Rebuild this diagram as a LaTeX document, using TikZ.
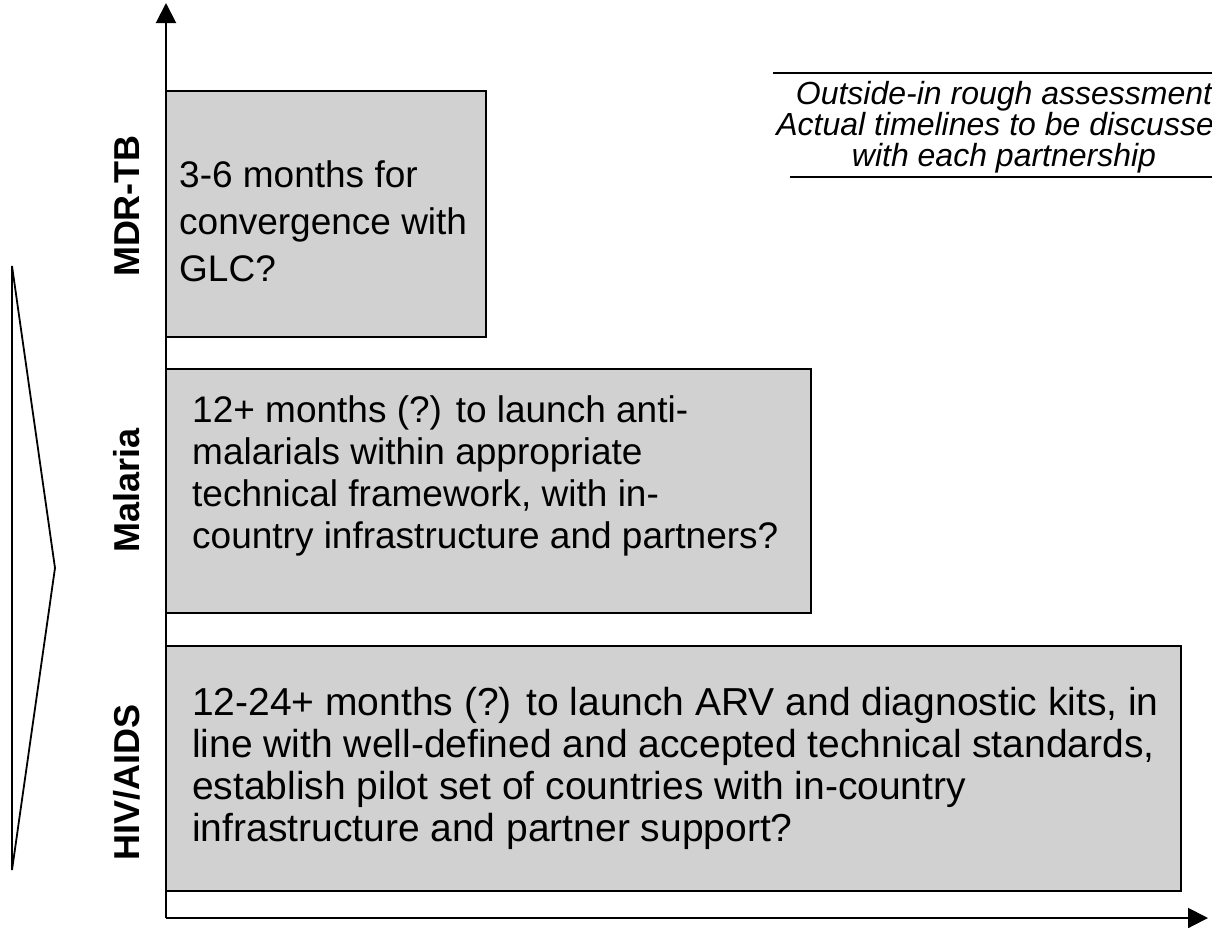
\documentclass[tikz,border=0pt]{standalone}
\usepackage{fontspec}
\setmainfont{Liberation Sans}
\usetikzlibrary{arrows.meta}

\definecolor{boxgray}{RGB}{209,209,209}

\tikzset{
    timebox/.style={draw, line width=2pt, fill=boxgray, anchor=north west, inner sep=0pt},
    boxtext/.style={anchor=west, align=left, inner sep=0pt, font=\fontsize{37}{42}\selectfont},
    disease/.style={rotate=90, inner sep=0pt, font=\bfseries\fontsize{36}{40}\selectfont},
    axis/.style={line width=2pt, -{Triangle[width=20pt,length=20pt]}},
    rule/.style={line width=1.8pt},
    note/.style={align=center, inner sep=0pt, font=\itshape\fontsize{32}{31}\selectfont}
}

\begin{document}
\begin{tikzpicture}[x=1pt, y=-1pt]

    \useasboundingbox (0,0) rectangle (1212,927);
    \clip (0,0) rectangle (1212,927);

    % Boxes
    \node[timebox, minimum width=320, minimum height=246] (tbbox) at (165,90) {};
    \node[timebox, minimum width=645, minimum height=244] (malbox) at (165,368) {};
    \node[timebox, minimum width=1015, minimum height=245] (hivbox) at (165,645) {};

    % Box texts
    \node[boxtext, font=\fontsize{37}{47}\selectfont] (tbtext) at ([xshift=14pt, yshift=-7pt]tbbox.west)
        {3-6 months for\\convergence with\\GLC?};
    \node[boxtext] (maltext) at ([xshift=27pt, yshift=15pt]malbox.west)
        {12+ months (?) to launch anti-\\malarials within appropriate\\technical framework, with in-\\country infrastructure and partners?};
    \node[boxtext, font=\fontsize{39}{42}\selectfont] (hivtext) at ([xshift=27pt]hivbox.west)
        {12-24+ months (?) to launch ARV and diagnostic kits, in\\line with well-defined and accepted technical standards,\\establish pilot set of countries with in-country\\infrastructure and partner support?};

    % Axes
    \coordinate (origin) at (166,918);
    \coordinate (ytop) at (166,3);
    \coordinate (xend) at (1208,918);
    \draw[axis] (origin) -- (ytop);
    \draw[axis] (origin) -- (xend);

    % Labels
    \node[disease] (tblabel) at (127,206) {MDR-TB};
    \node[disease] (mallabel) at (127,490) {Malaria};
    \node[disease] (hivlabel) at (127,782) {HIV/AIDS};

    % Priority wedge
    \coordinate (wtop) at (12,266);
    \coordinate (wtip) at (55,568);
    \coordinate (wbot) at (12,870);
    \draw[rule] (wtop) -- (wtip) -- (wbot) -- cycle;

    % Remark
    \draw[rule] (773,73) -- (1212,73);
    \draw[rule] (790,177) -- (1212,177);
    \node[note] (remark) at (1004,127)
        {Outside-in rough assessment\\Actual timelines to be discussed\\with each partnership};

\end{tikzpicture}
\end{document}
